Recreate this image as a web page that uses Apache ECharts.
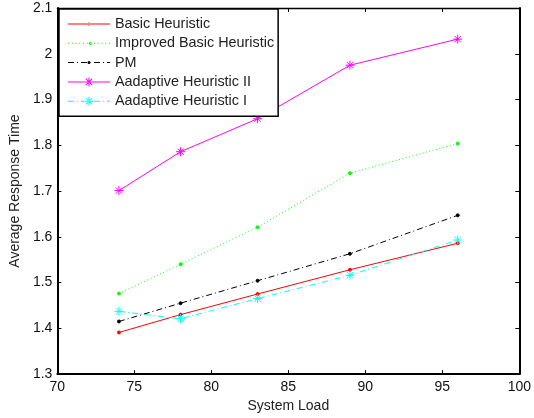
<!DOCTYPE html>
<html>
<head>
<meta charset="utf-8">
<script src="https://cdn.jsdelivr.net/npm/echarts@6/dist/echarts.min.js"></script>
<style>
  html, body { margin: 0; padding: 0; background: #fff; }
  #main { width: 534px; height: 418px; }
</style>
</head>
<body>
<div id="main"></div>
<script>
// system load values (x)
var loads = [74, 78, 83, 89, 96];
// average response time per method
var basicHeuristic = [1.391, 1.430, 1.475, 1.528, 1.586];
var improvedBasic = [1.476, 1.540, 1.621, 1.739, 1.804];
var pm = [1.415, 1.455, 1.504, 1.563, 1.647];
var adaptiveII = [1.701, 1.786, 1.858, 1.975, 2.032];
var adaptiveI = [1.437, 1.421, 1.465, 1.516, 1.593];

var FONT = "Liberation Sans";
var STAR = "path://M0,5L10,5M5,0L5,10M1.5,1.5L8.5,8.5M1.5,8.5L8.5,1.5";
var DOTTED = [1, 2.5];
var DASHDOT = [6, 3, 1, 3];

function pairs(ys) {
  return loads.map(function (x, i) { return [x, ys[i]]; });
}

// legend icons: line sample + marker as one filled path (42 x 12 box)
function rect(x0, y0, x1, y1) {
  return "M" + x0 + "," + y0 + "L" + x1 + "," + y0 + "L" + x1 + "," + y1 + "L" + x0 + "," + y1 + "Z";
}
function linePath(pattern) {
  var y = 5.5, w = 42, d = "";
  if (pattern === "solid") return rect(0, y, w, y + 1);
  var x = 0, i = 0;
  while (x < w) {
    var len = pattern[i % pattern.length];
    if (i % 2 === 0) d += rect(x, y, Math.min(x + len, w), y + 1);
    x += len;
    i++;
  }
  return d;
}
function dotPath() {
  return "M19.5,6a1.5,1.5 0 1,0 3,0a1.5,1.5 0 1,0 -3,0Z";
}
function starPath() {
  var cx = 21, cy = 6, r = 4.5, t = 0.5, k = r * 0.7071, s = t * 0.7071;
  var d = rect(cx - r, cy - t, cx + r, cy + t) + rect(cx - t, cy - r, cx + t, cy + r);
  d += "M" + (cx - k - s) + "," + (cy - k + s) + "L" + (cx - k + s) + "," + (cy - k - s) +
       "L" + (cx + k + s) + "," + (cy + k - s) + "L" + (cx + k - s) + "," + (cy + k + s) + "Z";
  d += "M" + (cx - k - s) + "," + (cy + k - s) + "L" + (cx - k + s) + "," + (cy + k + s) +
       "L" + (cx + k + s) + "," + (cy - k + s) + "L" + (cx + k - s) + "," + (cy - k - s) + "Z";
  return d;
}

function line(name, ys, color, dash, symbol, size) {
  return {
    name: name,
    type: "line",
    data: pairs(ys),
    symbol: symbol,
    symbolSize: size,
    showSymbol: true,
    lineStyle: { color: color, width: 1, type: dash },
    itemStyle: { color: color, borderColor: color, borderWidth: 1 },
    emphasis: { disabled: true },
    z: 3,
  };
}

var myChart = echarts.init(document.getElementById("main"));
var axisCommon = {
  type: "value",
  axisLine: { show: true, lineStyle: { color: "#000", width: 2 } },
  axisTick: { show: true, inside: true, length: 4, lineStyle: { color: "#000" } },
  splitLine: { show: false },
};

var option = {
  animation: false,
  grid: { left: 54, right: 12, top: 8, bottom: 40 },
  legend: {
    orient: "vertical",
    left: 59,
    top: 9,
    padding: [8, 4, 8, 9],
    itemWidth: 42,
    itemHeight: 12,
    itemGap: 5.3,
    backgroundColor: "#fff",
    borderColor: "#000",
    borderWidth: 1.5,
    itemStyle: { borderWidth: 0 },
    textStyle: { fontFamily: FONT, fontSize: 14.4, color: "#222" },
    data: [
      { name: "Basic Heuristic", icon: "path://" + linePath("solid") + dotPath() },
      { name: "Improved Basic Heuristic", icon: "path://" + linePath(DOTTED) + dotPath() },
      { name: "PM", icon: "path://" + linePath(DASHDOT) + dotPath() },
      { name: "Aadaptive Heuristic II", icon: "path://" + linePath("solid") + starPath() },
      { name: "Aadaptive Heuristic I", icon: "path://" + linePath(DASHDOT) + starPath() },
    ],
  },
  xAxis: [
    Object.assign({}, axisCommon, {
      position: "bottom",
      min: 70, max: 100, interval: 5,
      name: "System Load",
      nameLocation: "middle",
      nameGap: 24,
      nameTextStyle: { fontFamily: FONT, fontSize: 14, color: "#222" },
      axisLabel: { fontFamily: FONT, fontSize: 14, color: "#111", margin: 6 },
    }),
    Object.assign({}, axisCommon, {
      position: "top",
      min: 70, max: 100, interval: 5,
      axisLine: { show: true, lineStyle: { color: "#000", width: 1.3 } },
      axisLabel: { show: false },
    }),
  ],
  yAxis: [
    Object.assign({}, axisCommon, {
      position: "left",
      min: 1.3, max: 2.1, interval: 0.1,
      name: "Average Response Time",
      nameLocation: "middle",
      nameGap: 34,
      nameTextStyle: { fontFamily: FONT, fontSize: 14, color: "#222" },
      axisLabel: {
        fontFamily: FONT, fontSize: 14, color: "#111", margin: 5,
        formatter: function (v) { return String(Math.round(v * 10) / 10); },
      },
    }),
    Object.assign({}, axisCommon, {
      position: "right",
      min: 1.3, max: 2.1, interval: 0.1,
      axisLabel: { show: false },
    }),
  ],
  series: [
    line("Basic Heuristic", basicHeuristic, "#ff0000", "solid", "circle", 3),
    line("Improved Basic Heuristic", improvedBasic, "#00ff00", DOTTED, "circle", 3),
    line("PM", pm, "#000000", DASHDOT, "circle", 3),
    line("Aadaptive Heuristic II", adaptiveII, "#ff00ff", "solid", STAR, 9),
    line("Aadaptive Heuristic I", adaptiveI, "#00ffff", DASHDOT, STAR, 9),
  ],
};
myChart.setOption(option);
</script>
</body>
</html>
